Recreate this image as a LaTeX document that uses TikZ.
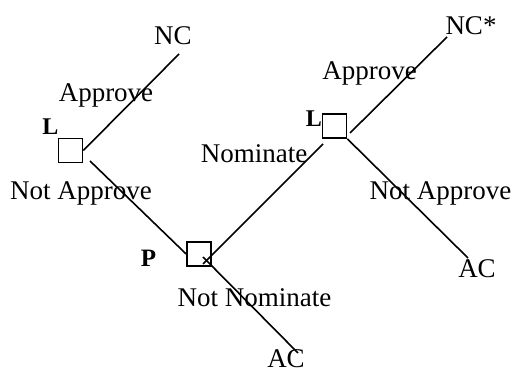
\documentclass[tikz,border=0pt]{standalone}
\usepackage{fontspec}
\setmainfont{Liberation Serif}
\begin{document}
\begin{tikzpicture}[x=0.5pt,y=-0.5pt,
  dbox/.style={draw,line width=0.85pt,minimum size=12pt,inner sep=0pt},
  lbl/.style={anchor=base,inner sep=0pt,font=\fontsize{13.5pt}{16pt}\selectfont},
  edge/.style={line width=0.8pt}]
\useasboundingbox (0,0) rectangle (514,368);
% decision boxes
\node[dbox] (boxL) at (70.5,150.5) {};
\node[dbox] (boxP) at (199,254) {};
\node[dbox] (boxR) at (334.5,126) {};
% player labels
\node[anchor=base,inner sep=0pt] (pL1) at (50.5,135) {\fontsize{12pt}{14pt}\selectfont\bfseries L};
\node[anchor=base,inner sep=0pt] (pP) at (148.5,267) {\fontsize{12.5pt}{14pt}\selectfont\bfseries P};
\node[anchor=base,inner sep=0pt] (pL2) at (314,127) {\fontsize{12pt}{14pt}\selectfont\bfseries L};
% end coordinates
\coordinate (ncEnd) at (179,54);
\coordinate (naStart) at (90,161);
\coordinate (nomStart) at (203,264);
\coordinate (nomEnd) at (323,144);
\coordinate (nnStart) at (203,257);
\coordinate (acEnd1) at (298,353);
\coordinate (apStart) at (350,133);
\coordinate (ncsEnd) at (447,37);
\coordinate (acEnd2) at (468,258);
% edges
\draw[edge] (boxL.east) -- (ncEnd);
\draw[edge] (naStart) -- (boxP.west);
\draw[edge] (nomStart) -- (nomEnd);
\draw[edge] (nnStart) -- (acEnd1);
\draw[edge] (apStart) -- (ncsEnd);
\draw[edge] (boxR.south east) -- (acEnd2);
% texts
\node[lbl] (tNC) at (173,45) {NC};
\node[lbl] (tAp1) at (106,102) {Approve};
\node[lbl] (tNA1) at (81,200) {Not Approve};
\node[lbl] (tNom) at (254,163) {Nominate};
\node[lbl] (tNN) at (254.5,307) {Not Nominate};
\node[lbl] (tAC1) at (286,368) {AC};
\node[lbl] (tNCs) at (471,35) {NC*};
\node[lbl] (tAp2) at (369.5,80) {Approve};
\node[lbl] (tNA2) at (440.5,200) {Not Approve};
\node[lbl] (tAC2) at (477,278) {AC};
\end{tikzpicture}
\end{document}
